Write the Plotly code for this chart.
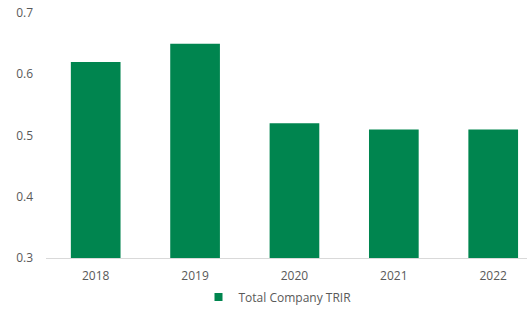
import plotly.graph_objects as go

years = ["2018", "2019", "2020", "2021", "2022"]
trir = [0.62, 0.65, 0.52, 0.51, 0.51]
y_ticks = [0.3, 0.4, 0.5, 0.6, 0.7]
series_name = "Total Company TRIR"
bar_color = "#00854F"

fig = go.Figure()
fig.add_trace(go.Bar(
    x=years, y=trir, name=series_name,
    marker=dict(color=bar_color, line=dict(width=0)),
    width=0.5, showlegend=False,
))
# legend-only entry (small square symbol like the reference)
fig.add_trace(go.Scatter(
    x=[None], y=[None], mode="markers", name=series_name,
    marker=dict(symbol="square", size=8, color=bar_color),
    showlegend=True,
))

fig.update_layout(
    width=527, height=316,
    margin=dict(l=46, r=0, t=13, b=58, autoexpand=False),
    paper_bgcolor="white", plot_bgcolor="white",
    font=dict(family="Open Sans, Liberation Sans, sans-serif", size=12, color="#595959"),
    showlegend=True,
    legend=dict(orientation="h", x=0.5 + 14 / 527, xanchor="center", xref="container",
                y=1 - 297 / 316, yanchor="middle", yref="container",
                font=dict(size=12, color="#595959"), itemwidth=30),
)
fig.update_xaxes(
    type="category", range=[-0.5, 4.34], automargin=False,
    showline=True, linecolor="#D9D9D9", linewidth=1,
    ticks="", showgrid=False, tickfont=dict(size=12, color="#595959"),
    ticklabelstandoff=7,
)
fig.update_yaxes(
    range=[0.3, 0.7], tickvals=y_ticks, ticktext=[f"{v:.1f}" for v in y_ticks],
    showgrid=False, zeroline=False, showline=False, ticks="", automargin=False,
    tickfont=dict(size=12, color="#595959"), ticklabelstandoff=12,
)
fig.write_html("out.html", config={"displayModeBar": False},
               post_script="document.body.style.margin='0';")
